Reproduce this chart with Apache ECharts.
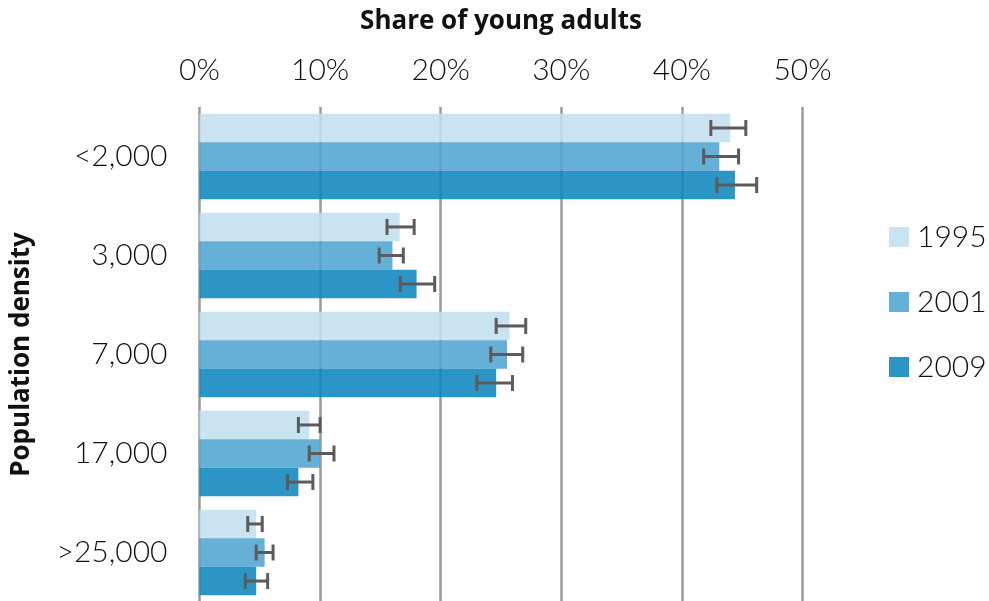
<!DOCTYPE html>
<html>
<head>
<meta charset="utf-8">
<script src="https://cdn.jsdelivr.net/npm/echarts@6/dist/echarts.min.js"></script>
<style>html,body{margin:0;padding:0;background:#fff;}#c{width:989px;height:601px;}</style>
</head>
<body>
<div id="c"></div>
<script>
var categories = ['<2,000', '3,000', '7,000', '17,000', '>25,000'];
var years = ['1995', '2001', '2009'];
var v1995 = [44.0, 16.6, 25.7, 9.1, 4.7];
var v2001 = [43.1, 16.0, 25.5, 10.0, 5.4];
var v2009 = [44.4, 18.0, 24.6, 8.2, 4.7];
var lo1995 = [42.4, 15.55, 24.6, 8.2, 4.0];
var hi1995 = [45.3, 17.8, 27.05, 10.0, 5.2];
var lo2001 = [41.8, 14.9, 24.15, 9.1, 4.7];
var hi2001 = [44.7, 16.9, 26.8, 11.15, 6.1];
var lo2009 = [42.9, 16.65, 23.0, 7.3, 3.8];
var hi2009 = [46.2, 19.5, 25.95, 9.4, 5.65];
var xTicks = [0, 10, 20, 30, 40, 50];

var colors = ['#c2dfee', '#4ea5d2', '#0e88be'];
var values = [v1995, v2001, v2009];
var lows = [lo1995, lo2001, lo2009];
var highs = [hi1995, hi2001, hi2009];
var gapRatio = 0.135;
var FONT = 'Lato';
var TFONT = 'Open Sans';

var chart = echarts.init(document.getElementById('c'), null, {renderer: 'canvas'});

var series = [];
years.forEach(function (y, i) {
  series.push({
    name: y, type: 'bar', data: values[i], barGap: '0%', barCategoryGap: (gapRatio * 100) + '%',
    itemStyle: {color: colors[i], opacity: 0.88}, z: 2
  });
});
years.forEach(function (y, i) {
  var data = categories.map(function (c, k) { return [lows[i][k], highs[i][k], k]; });
  series.push({
    name: y + ' err', type: 'custom', z: 5,
    encode: {x: [0, 1], y: 2},
    data: data,
    renderItem: function (params, api) {
      var band = api.size([0, 1])[1];
      var total = band * (1 - gapRatio);
      var bw = total / 3;
      var off = -total / 2 + i * bw + bw / 2;
      var p0 = api.coord([api.value(0), api.value(2)]);
      var p1 = api.coord([api.value(1), api.value(2)]);
      var yy = p0[1] + off;
      var cap = 8;
      var st = {stroke: '#5e5a5a', lineWidth: 3, fill: null};
      return {
        type: 'group',
        children: [
          {type: 'line', shape: {x1: p0[0], y1: yy, x2: p1[0], y2: yy}, style: st},
          {type: 'line', shape: {x1: p0[0], y1: yy - cap, x2: p0[0], y2: yy + cap}, style: st},
          {type: 'line', shape: {x1: p1[0], y1: yy - cap, x2: p1[0], y2: yy + cap}, style: st}
        ]
      };
    }
  });
});

chart.setOption({
  animation: false,
  textStyle: {fontFamily: FONT},
  grid: {left: 199.5, width: 603, top: 107, height: 495, containLabel: false, outerBoundsMode: 'none'},
  legend: {
    orient: 'vertical', left: 884, top: 217,
    data: years, itemWidth: 20, itemHeight: 20, itemGap: 35,
    icon: 'rect',
    textStyle: {fontSize: 30, fontFamily: FONT, fontWeight: 300, color: '#111', lineHeight: 30, padding: [0, 0, 0, 3]}
  },
  xAxis: {
    type: 'value', position: 'top', min: xTicks[0], max: xTicks[xTicks.length - 1], interval: 10,
    name: 'Share of young adults', nameLocation: 'middle', nameGap: 72,
    nameTextStyle: {fontSize: 26, fontWeight: 'bold', fontFamily: TFONT, color: '#111'},
    axisLine: {show: false}, axisTick: {show: false},
    axisLabel: {formatter: '{value}%', fontSize: 30, fontWeight: 300, fontFamily: FONT, color: '#111', margin: 22},
    splitLine: {show: true, lineStyle: {color: '#9a9a9a', width: 2.5}}
  },
  yAxis: {
    type: 'category', inverse: true, data: categories,
    name: 'Population density', nameLocation: 'middle', nameGap: 165, nameRotate: 90,
    nameTextStyle: {fontSize: 26, fontWeight: 'bold', fontFamily: TFONT, color: '#111'},
    axisLine: {show: false}, axisTick: {show: false},
    axisLabel: {fontSize: 30, fontWeight: 300, fontFamily: FONT, color: '#111', margin: 32}
  },
  series: series
});
</script>
</body>
</html>
